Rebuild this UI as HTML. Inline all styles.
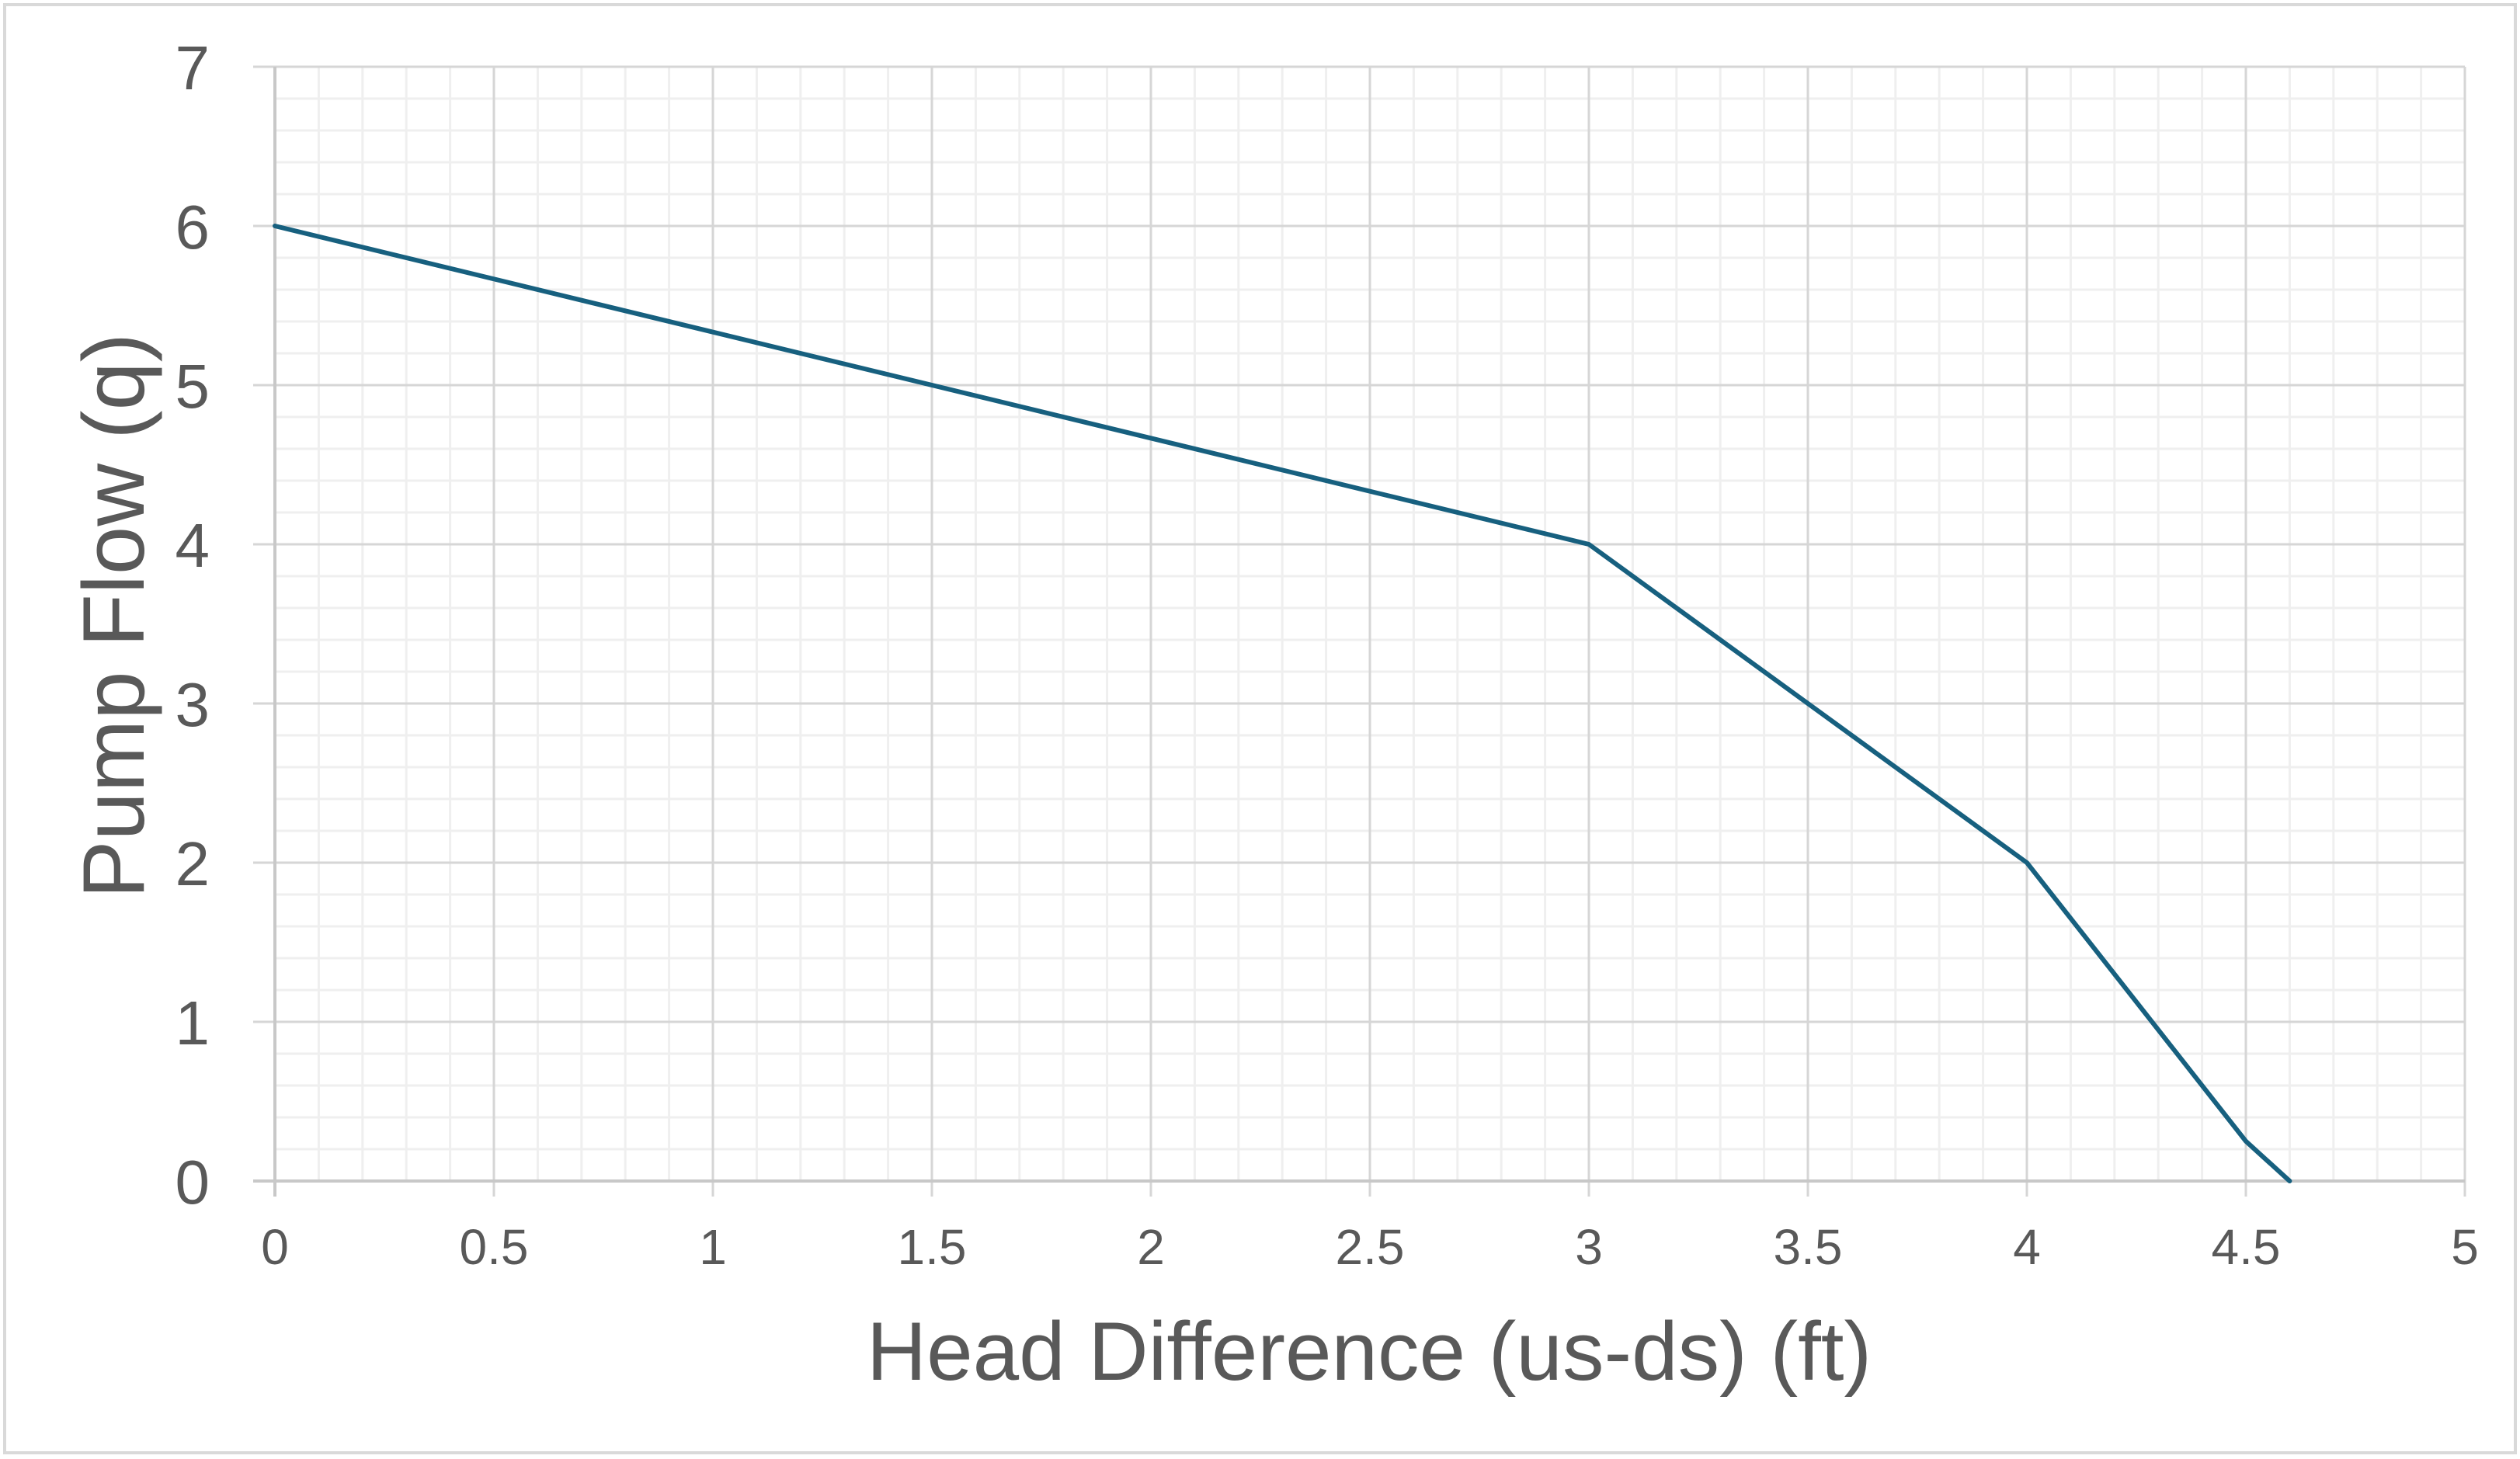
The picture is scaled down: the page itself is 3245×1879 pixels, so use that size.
<!DOCTYPE html>
<html><head><meta charset="utf-8"><style>
html,body{margin:0;padding:0;background:#fff;}
svg{display:block;font-family:"Liberation Sans",sans-serif;}
</style></head><body>
<svg id="chart" width="3245" height="1879" viewBox="0 0 3245 1879" xmlns="http://www.w3.org/2000/svg">
<rect x="6" y="6" width="3233" height="1865" fill="#fff" stroke="#d9d9d9" stroke-width="4"/>
<g id="grid"></g>
<g id="axes"></g>
<g id="series"></g>
<text x="1763" y="1777" text-anchor="middle" font-size="107" fill="#595959">Head Difference (us-ds) (ft)</text>
<text transform="translate(185,793) rotate(-90)" text-anchor="middle" font-size="112" fill="#595959">Pump Flow (q)</text>
</svg>
<script>
const headValues = [0, 3, 4, 4.5, 4.6];
const flowValues = [6, 4, 2, 0.25, 0];
const xTickLabels = ["0","0.5","1","1.5","2","2.5","3","3.5","4","4.5","5"];
const yTickLabels = ["0","1","2","3","4","5","6","7"];
const xMin=0,xMax=5,yMin=0,yMax=7;
const L=354,R=3174,T=86,B=1521;
const NS="http://www.w3.org/2000/svg";
function sx(v){return L+(v-xMin)/(xMax-xMin)*(R-L);}
function sy(v){return B-(v-yMin)/(yMax-yMin)*(B-T);}
function mk(tag,attrs,parent){const e=document.createElementNS(NS,tag);for(const k in attrs)e.setAttribute(k,attrs[k]);parent.appendChild(e);return e;}
const grid=document.getElementById('grid'),axes=document.getElementById('axes'),series=document.getElementById('series');
for(let i=0;i<=50;i++){const v=i*0.1;if(i%5===0)continue;
 const l=mk('line',{x1:sx(v),x2:sx(v),y1:T,y2:B,stroke:'#efefef','stroke-width':3},grid);
 
 }
for(let i=0;i<=35;i++){const v=i*0.2;if(i%5===0)continue;
 const l=mk('line',{x1:L,x2:R,y1:sy(v),y2:sy(v),stroke:'#efefef','stroke-width':3},grid);
 
 }
xTickLabels.forEach(function(t){const v=parseFloat(t);const x=sx(v);
 const l=mk('line',{x1:x,x2:x,y1:T,y2:B+20,stroke:'#d6d6d6','stroke-width':3},grid);
 
 
 const tx=mk('text',{x:x,y:1628,'text-anchor':'middle','font-size':64,fill:'#595959'},axes);
 tx.textContent=t;
 
 });
yTickLabels.forEach(function(t){const v=parseFloat(t);const y=sy(v);
 const l=mk('line',{x1:L-28,x2:R,y1:y,y2:y,stroke:'#d6d6d6','stroke-width':3},grid);
 
 
 const tx=mk('text',{x:270,y:y+29,'text-anchor':'end','font-size':80,fill:'#595959'},axes);
 tx.textContent=t;
 
 });
const xa=mk('line',{x1:L-28,x2:R,y1:B,y2:B,stroke:'#c8c8c8','stroke-width':4},axes);


const ya=mk('line',{x1:L,x2:L,y1:T,y2:B+20,stroke:'#c8c8c8','stroke-width':4},axes);


const pts=headValues.map(function(h,i){return sx(h)+','+sy(flowValues[i]);}).join(' ');
const pl=mk('polyline',{points:pts,fill:'none',stroke:'#17607f','stroke-width':6,'stroke-linejoin':'round','stroke-linecap':'round'},series);


</script>
</body></html>
